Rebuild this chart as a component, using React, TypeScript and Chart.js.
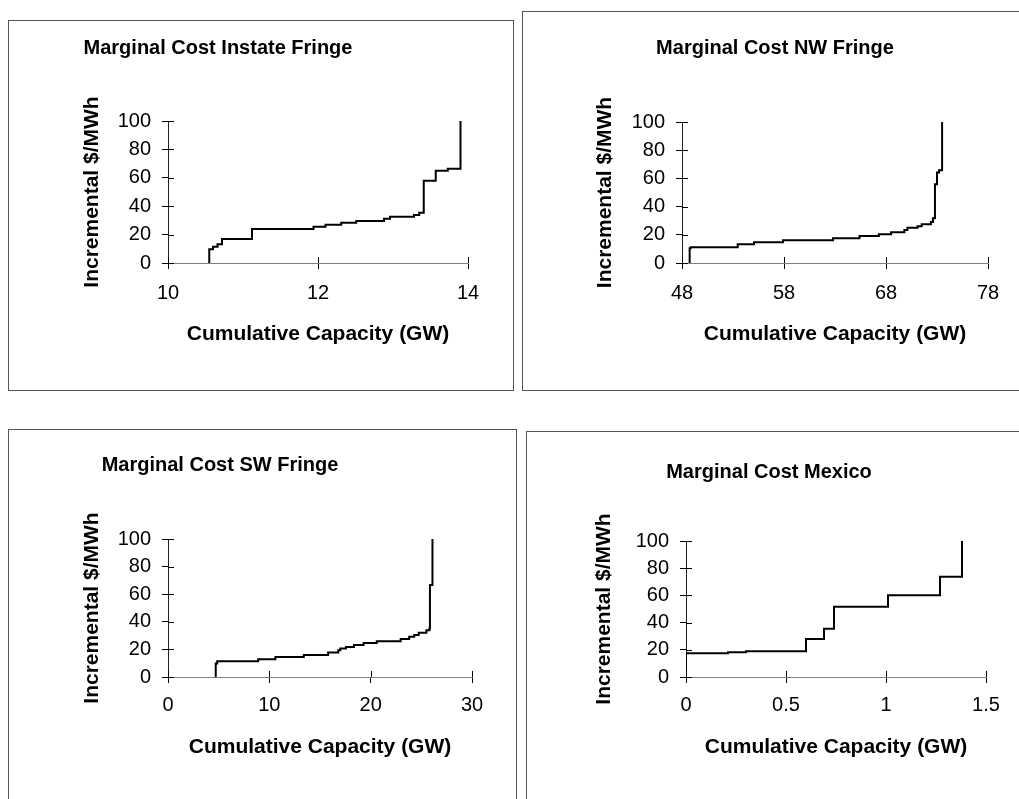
import React, { useEffect, useRef } from 'react';
import { Chart, registerables } from 'chart.js';

Chart.register(...registerables);

const FONT = "'Liberation Sans', Arial, Helvetica, sans-serif";

// ---------------- data ----------------
const xAxisTitle = 'Cumulative Capacity (GW)';
const yAxisTitle = 'Incremental $/MWh';
const costTicks = [0, 20, 40, 60, 80, 100];

const instateTitle = 'Marginal Cost Instate Fringe';
const instateCapacity = [10.55, 10.55, 10.6, 10.66, 10.72, 11.12, 11.94, 12.1, 12.31, 12.51, 12.88, 12.96, 13.28, 13.35, 13.41, 13.57, 13.73, 13.9];
const instateCost = [0, 9.6, 11.5, 13.2, 16.9, 23.9, 25.6, 27, 28.4, 29.6, 31.2, 32.6, 33.8, 35.4, 58, 65, 66.4, 100];
const instateTicks = [10, 12, 14];

const nwTitle = 'Marginal Cost NW Fringe';
const nwCapacity = [48.75, 48.75, 48.85, 53.46, 55.06, 57.9, 62.8, 65.4, 67.3, 68.5, 69.8, 70.1, 71.1, 71.5, 72.4, 72.6, 72.8, 73.0, 73.2, 73.5];
const nwCost = [0, 10.5, 11.2, 13.3, 14.7, 16.1, 17.5, 19.2, 20.4, 21.8, 23.4, 25, 26, 27.4, 29.1, 31.7, 55.8, 64.1, 65.7, 100];
const nwTicks = [48, 58, 68, 78];

const swTitle = 'Marginal Cost SW Fringe';
const swCapacity = [4.71, 4.71, 4.85, 8.9, 10.6, 13.4, 15.8, 16.8, 17.0, 17.56, 18.35, 19.3, 20.6, 22.96, 23.8, 24.3, 24.74, 25.5, 25.8, 25.85, 26.1];
const swCost = [0, 9.7, 11.4, 12.9, 14.5, 16, 17.7, 19.4, 20.6, 21.8, 23.2, 24.7, 25.9, 27.6, 29.1, 30.5, 32, 33.9, 35.1, 66.6, 100];
const swTicks = [0, 10, 20, 30];

const mexicoTitle = 'Marginal Cost Mexico';
const mexicoCapacity = [0, 0, 0.21, 0.3, 0.6, 0.69, 0.74, 1.01, 1.27, 1.38];
const mexicoCost = [0, 17.5, 18.2, 19, 28, 35.4, 51.6, 60.2, 73.7, 100];
const mexicoTicks = [0, 0.5, 1, 1.5];

// ---------------- layout (page geometry) ----------------
type Geo = {
  left: number; top: number; width: number; height: number;
  plotL: number; plotR: number; plotT: number; plotB: number;
  titleX: number; titleY: number; yTitleX: number; xTitleY: number; xTickPad: number;
};

const geoInstate: Geo = { left: 8, top: 20, width: 506, height: 371, plotL: 159, plotR: 459, plotT: 100, plotB: 242, titleX: 209, titleY: 27, yTitleX: 83, xTitleY: 313, xTickPad: 12 };
const geoNW: Geo = { left: 522, top: 11, width: 510, height: 380, plotL: 159, plotR: 465, plotT: 110, plotB: 251, titleX: 252, titleY: 36, yTitleX: 82, xTitleY: 322, xTickPad: 12 };
const geoSW: Geo = { left: 8, top: 429, width: 509, height: 390, plotL: 159, plotR: 463, plotT: 109, plotB: 247, titleX: 211, titleY: 35, yTitleX: 83, xTitleY: 317, xTickPad: 10 };
const geoMexico: Geo = { left: 526, top: 431, width: 510, height: 390, plotL: 159, plotR: 459, plotT: 109, plotB: 245, titleX: 242, titleY: 40, yTitleX: 77, xTitleY: 315, xTickPad: 10 };

const TICK_SIZE = 20;
const AXIS_TITLE_SIZE = 21;
const TITLE_SIZE = 20;

const innerTicks = {
  id: 'innerTicks',
  beforeDatasetsDraw(chart: any) {
    const ctx = chart.ctx;
    const xs = chart.scales.x;
    const ys = chart.scales.y;
    const len = 6;
    ctx.save();
    ctx.strokeStyle = '#000';
    ctx.lineWidth = 1;
    xs.ticks.forEach((_: any, i: number) => {
      const px = Math.round(xs.getPixelForTick(i)) + 0.5;
      ctx.beginPath();
      ctx.moveTo(px, xs.top);
      ctx.lineTo(px, xs.top - len);
      ctx.stroke();
    });
    ys.ticks.forEach((_: any, i: number) => {
      const py = Math.round(ys.getPixelForTick(i)) + 0.5;
      ctx.beginPath();
      ctx.moveTo(ys.right, py);
      ctx.lineTo(ys.right + len, py);
      ctx.stroke();
    });
    ctx.restore();
  },
};

const panelTitle = {
  id: 'panelTitle',
  afterDraw(chart: any, _args: any, opts: any) {
    const ctx = chart.ctx;
    ctx.save();
    ctx.font = `bold ${TITLE_SIZE}px ${FONT}`;
    ctx.fillStyle = '#000';
    ctx.textAlign = 'center';
    ctx.textBaseline = 'middle';
    ctx.fillText(opts.text, opts.x, opts.y);
    ctx.restore();
  },
};

function ChartPanel({ title, xs, ys, xTicks, geo }: { title: string; xs: number[]; ys: number[]; xTicks: number[]; geo: Geo }) {
  const ref = useRef<HTMLCanvasElement>(null);
  const cw = geo.width - 2;
  const ch = geo.height - 2;
  useEffect(() => {
    const half = (AXIS_TITLE_SIZE * 1.2) / 2;
    const xH = geo.xTitleY + half - geo.plotB;
    const chart = new Chart(ref.current as HTMLCanvasElement, {
      type: 'line',
      data: {
        datasets: [
          {
            data: xs.map((x, i) => ({ x, y: ys[i] })),
            borderColor: '#000',
            borderWidth: 2,
            pointRadius: 0,
            stepped: 'before',
            fill: false,
            tension: 0,
          },
        ],
      },
      options: {
        animation: false,
        responsive: false,
        devicePixelRatio: 1,
        layout: { padding: { left: 0, top: geo.plotT, right: cw - geo.plotR, bottom: ch - geo.plotB - xH } },
        plugins: {
          legend: { display: false },
          tooltip: { enabled: false },
          title: { display: false },
          panelTitle: { text: title, x: geo.titleX, y: geo.titleY },
        } as any,
        scales: {
          x: {
            type: 'linear',
            min: xTicks[0],
            max: xTicks[xTicks.length - 1],
            afterBuildTicks: (s: any) => { s.ticks = xTicks.map((v) => ({ value: v })); },
            afterFit: (s: any) => { s.height = xH; },
            ticks: { callback: (v: any) => String(v), font: { family: FONT, size: TICK_SIZE }, color: '#000', padding: geo.xTickPad, maxRotation: 0, autoSkip: false },
            grid: { drawOnChartArea: false, drawTicks: true, tickLength: 6, color: '#000' },
            border: { display: true, color: '#808080', width: 1 },
            title: { display: true, text: xAxisTitle, font: { family: FONT, size: AXIS_TITLE_SIZE, weight: 'bold', lineHeight: 1.2 }, color: '#000', padding: { top: 0, bottom: 0 } },
          },
          y: {
            type: 'linear',
            min: 0,
            max: 100,
            afterBuildTicks: (s: any) => { s.ticks = costTicks.map((v) => ({ value: v })); },
            afterFit: (s: any) => { s.width = geo.plotL; },
            ticks: { callback: (v: any) => String(v), font: { family: FONT, size: TICK_SIZE }, color: '#000', padding: 11, autoSkip: false },
            grid: { drawOnChartArea: false, drawTicks: true, tickLength: 6, color: '#000' },
            border: { display: true, color: '#222', width: 1 },
            title: { display: true, text: yAxisTitle, font: { family: FONT, size: AXIS_TITLE_SIZE, weight: 'bold', lineHeight: 1.2 }, color: '#000', padding: { top: geo.yTitleX - half, bottom: 0 } },
          },
        } as any,
      },
      plugins: [innerTicks, panelTitle],
    } as any);
    return () => chart.destroy();
  }, []);
  return (
    <div
      style={{
        position: 'absolute',
        left: geo.left,
        top: geo.top,
        width: geo.width,
        height: geo.height,
        border: '1px solid #555',
        boxSizing: 'border-box',
        background: '#fff',
      }}
    >
      <canvas ref={ref} width={cw} height={ch} style={{ display: 'block' }} />
    </div>
  );
}

export default function App() {
  return (
    <div style={{ position: 'fixed', left: 0, top: 0, width: 1019, height: 799, overflow: 'hidden', background: '#fff' }}>
      <ChartPanel title={instateTitle} xs={instateCapacity} ys={instateCost} xTicks={instateTicks} geo={geoInstate} />
      <ChartPanel title={nwTitle} xs={nwCapacity} ys={nwCost} xTicks={nwTicks} geo={geoNW} />
      <ChartPanel title={swTitle} xs={swCapacity} ys={swCost} xTicks={swTicks} geo={geoSW} />
      <ChartPanel title={mexicoTitle} xs={mexicoCapacity} ys={mexicoCost} xTicks={mexicoTicks} geo={geoMexico} />
    </div>
  );
}
